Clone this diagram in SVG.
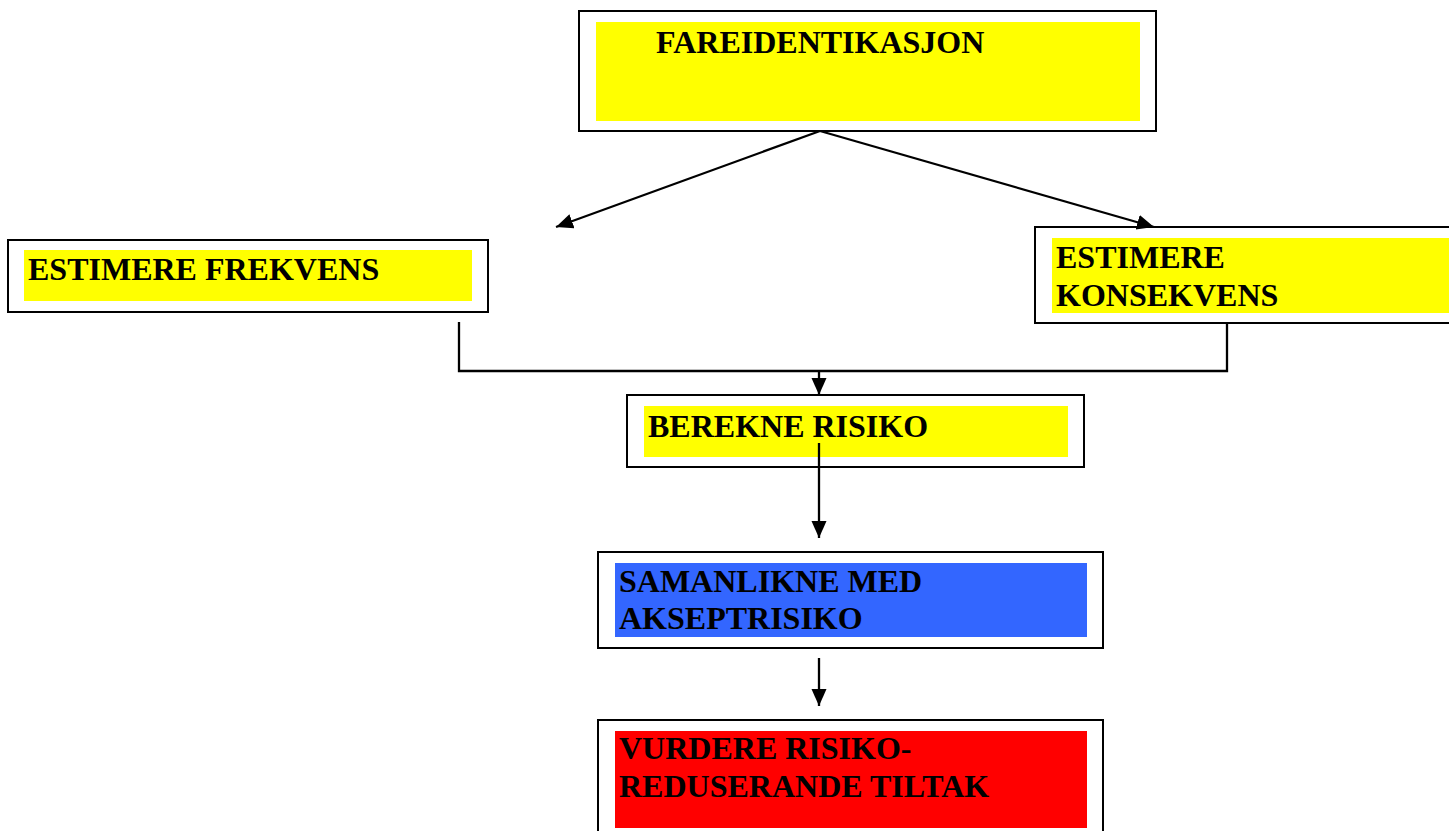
<svg xmlns="http://www.w3.org/2000/svg" width="1449" height="831" viewBox="0 0 1449 831">
<defs>
<style>
.box{fill:#ffffff;stroke:#000000;stroke-width:2}
.lbl{font-family:"Liberation Serif","Times New Roman",serif;font-weight:bold;font-size:32px;fill:#000000}
.con{fill:none;stroke:#000000;stroke-width:2.3}
</style>
<marker id="ah" markerUnits="userSpaceOnUse" markerWidth="18" markerHeight="16" refX="17" refY="7.5" orient="auto">
<path d="M0,0 L17,7.5 L0,15 Z" fill="#000000"/>
</marker>
</defs>
<rect width="1449" height="831" fill="#ffffff"/>
<g id="fareidentikasjon">
<rect class="box" x="579" y="11" width="577" height="120"/>
<rect x="596" y="22" width="544" height="99" fill="#ffff00"/>
<text class="lbl" x="656" y="53">FAREIDENTIKASJON</text>
</g>
<g id="estimere-frekvens">
<rect class="box" x="8" y="240" width="480" height="72"/>
<rect x="24" y="250" width="448" height="51" fill="#ffff00"/>
<text class="lbl" x="28" y="280">ESTIMERE FREKVENS</text>
</g>
<g id="estimere-konsekvens">
<rect class="box" x="1035" y="227" width="430" height="96"/>
<rect x="1052" y="238" width="410" height="75" fill="#ffff00"/>
<text class="lbl" x="1056" y="268">ESTIMERE</text>
<text class="lbl" x="1056" y="306">KONSEKVENS</text>
</g>
<g id="berekne-risiko">
<rect class="box" x="627" y="395" width="457" height="72"/>
<rect x="644" y="406" width="424" height="51" fill="#ffff00"/>
<text class="lbl" x="648" y="437">BEREKNE RISIKO</text>
</g>
<g id="samanlikne">
<rect class="box" x="598" y="552" width="505" height="96"/>
<rect x="615" y="563" width="472" height="74" fill="#3366ff"/>
<text class="lbl" x="619" y="592">SAMANLIKNE MED</text>
<text class="lbl" x="619" y="629">AKSEPTRISIKO</text>
</g>
<g id="vurdere">
<rect class="box" x="598" y="720" width="505" height="130"/>
<rect x="615" y="731" width="472" height="97" fill="#ff0000"/>
<text class="lbl" x="619" y="759">VURDERE RISIKO-</text>
<text class="lbl" x="619" y="797">REDUSERANDE TILTAK</text>
</g>
<g id="connectors">
<line class="con" x1="820" y1="131" x2="556" y2="227" marker-end="url(#ah)"/>
<line class="con" x1="820" y1="131" x2="1154" y2="227" marker-end="url(#ah)"/>
<polyline class="con" points="459,322 459,371 1227,371 1227,323"/>
<line class="con" x1="819" y1="371" x2="819" y2="395" marker-end="url(#ah)"/>
<line class="con" x1="819" y1="443" x2="819" y2="538" marker-end="url(#ah)"/>
<line class="con" x1="819" y1="658" x2="819" y2="706" marker-end="url(#ah)"/>
</g>
</svg>
